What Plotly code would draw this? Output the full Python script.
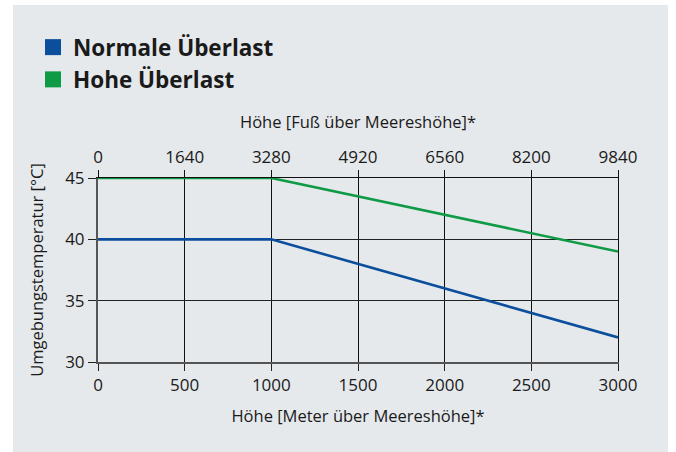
import plotly.graph_objects as go

# Data
altitude_m = [0, 1000, 3000]
normal_overload = [40, 40, 32]
high_overload = [45, 45, 39]
x_ticks_m = [0, 500, 1000, 1500, 2000, 2500, 3000]
x_ticks_ft = [0, 1640, 3280, 4920, 6560, 8200, 9840]
y_ticks = [30, 35, 40, 45]
series_names = ["Normale Überlast", "Hohe Überlast"]
colors = ["#0b4f9c", "#0f9a46"]

FONT = "Open Sans"
W, H = 676, 452
L, R, T, B = 98, 58, 178, 90
pw, ph = W - L - R, H - T - B

def px_x(p):
    return (p - L) / pw

def px_y(p):
    return (H - B - p) / ph

fig = go.Figure()
for vals, name, c in zip([normal_overload, high_overload], series_names, colors):
    fig.add_trace(go.Scatter(x=altitude_m, y=vals, mode="lines",
                             line=dict(color=c, width=2.6), showlegend=False,
                             xaxis="x", yaxis="y"))
for name, c in zip(series_names, colors):
    fig.add_trace(go.Scatter(x=[None], y=[None], mode="markers", name=name,
                             marker=dict(symbol="square", size=18, color=c),
                             showlegend=True))

fig.add_shape(type="rect", xref="paper", yref="paper",
              x0=px_x(13), x1=px_x(668), y0=px_y(470), y1=px_y(5),
              fillcolor="#e5e9ec", line=dict(width=0), layer="below")

TF = dict(size=17, color="#1a1a1a")
fig.update_layout(
    width=W, height=H,
    margin=dict(l=L, r=R, t=T, b=B),
    paper_bgcolor="white", plot_bgcolor="white",
    font=dict(family=FONT, color="#1a1a1a"),
    legend=dict(x=px_x(33), y=px_y(26), xanchor="left", yanchor="top",
                bgcolor="rgba(0,0,0,0)", font=dict(size=22.5, family=FONT, weight="bold"),
                tracegroupgap=0, itemsizing="trace"),
    xaxis=dict(range=[0, 3000], tickvals=x_ticks_m, ticks="outside", ticklen=7,
               tickcolor="#222", tickwidth=1.2,
               showgrid=True, gridcolor="#111", gridwidth=1,
               showline=True, linecolor="#555", linewidth=2,
               tickfont=TF,
               title=dict(text="Höhe [Meter über Meereshöhe]*", font=dict(size=16.5), standoff=15),
               zeroline=False),
    xaxis2=dict(range=[0, 9840], tickvals=x_ticks_ft, ticktext=[str(v) for v in x_ticks_ft],
                overlaying="x", side="top",
                ticks="outside", ticklen=7, tickcolor="#111", tickwidth=1.2,
                showgrid=False, showline=True, linecolor="#111", linewidth=1,
                tickfont=TF,
                title=dict(text="Höhe [Fuß über Meereshöhe]*", font=dict(size=16.5), standoff=12),
                zeroline=False),
    yaxis=dict(range=[30, 45], tickvals=y_ticks, ticks="outside", ticklen=8,
               tickcolor="#222", tickwidth=1.2,
               showgrid=True, gridcolor="#222", gridwidth=1,
               showline=True, linecolor="#555", linewidth=2,
               tickfont=TF,
               title=dict(text="Umgebungstemperatur [°C]", font=dict(size=16.5), standoff=17),
               zeroline=False),
    yaxis2=dict(range=[30, 45], overlaying="y", side="right", showline=True,
                linecolor="#111", linewidth=1, showticklabels=False, ticks="",
                showgrid=False, zeroline=False),
)
# dummy trace to activate top / right axes
fig.add_trace(go.Scatter(x=[0], y=[30], xaxis="x2", yaxis="y2", mode="markers",
                         marker=dict(opacity=0), showlegend=False, hoverinfo="skip"))

fig.write_html("out.html", config={"displayModeBar": False},
               post_script="document.body.style.margin='0';")
